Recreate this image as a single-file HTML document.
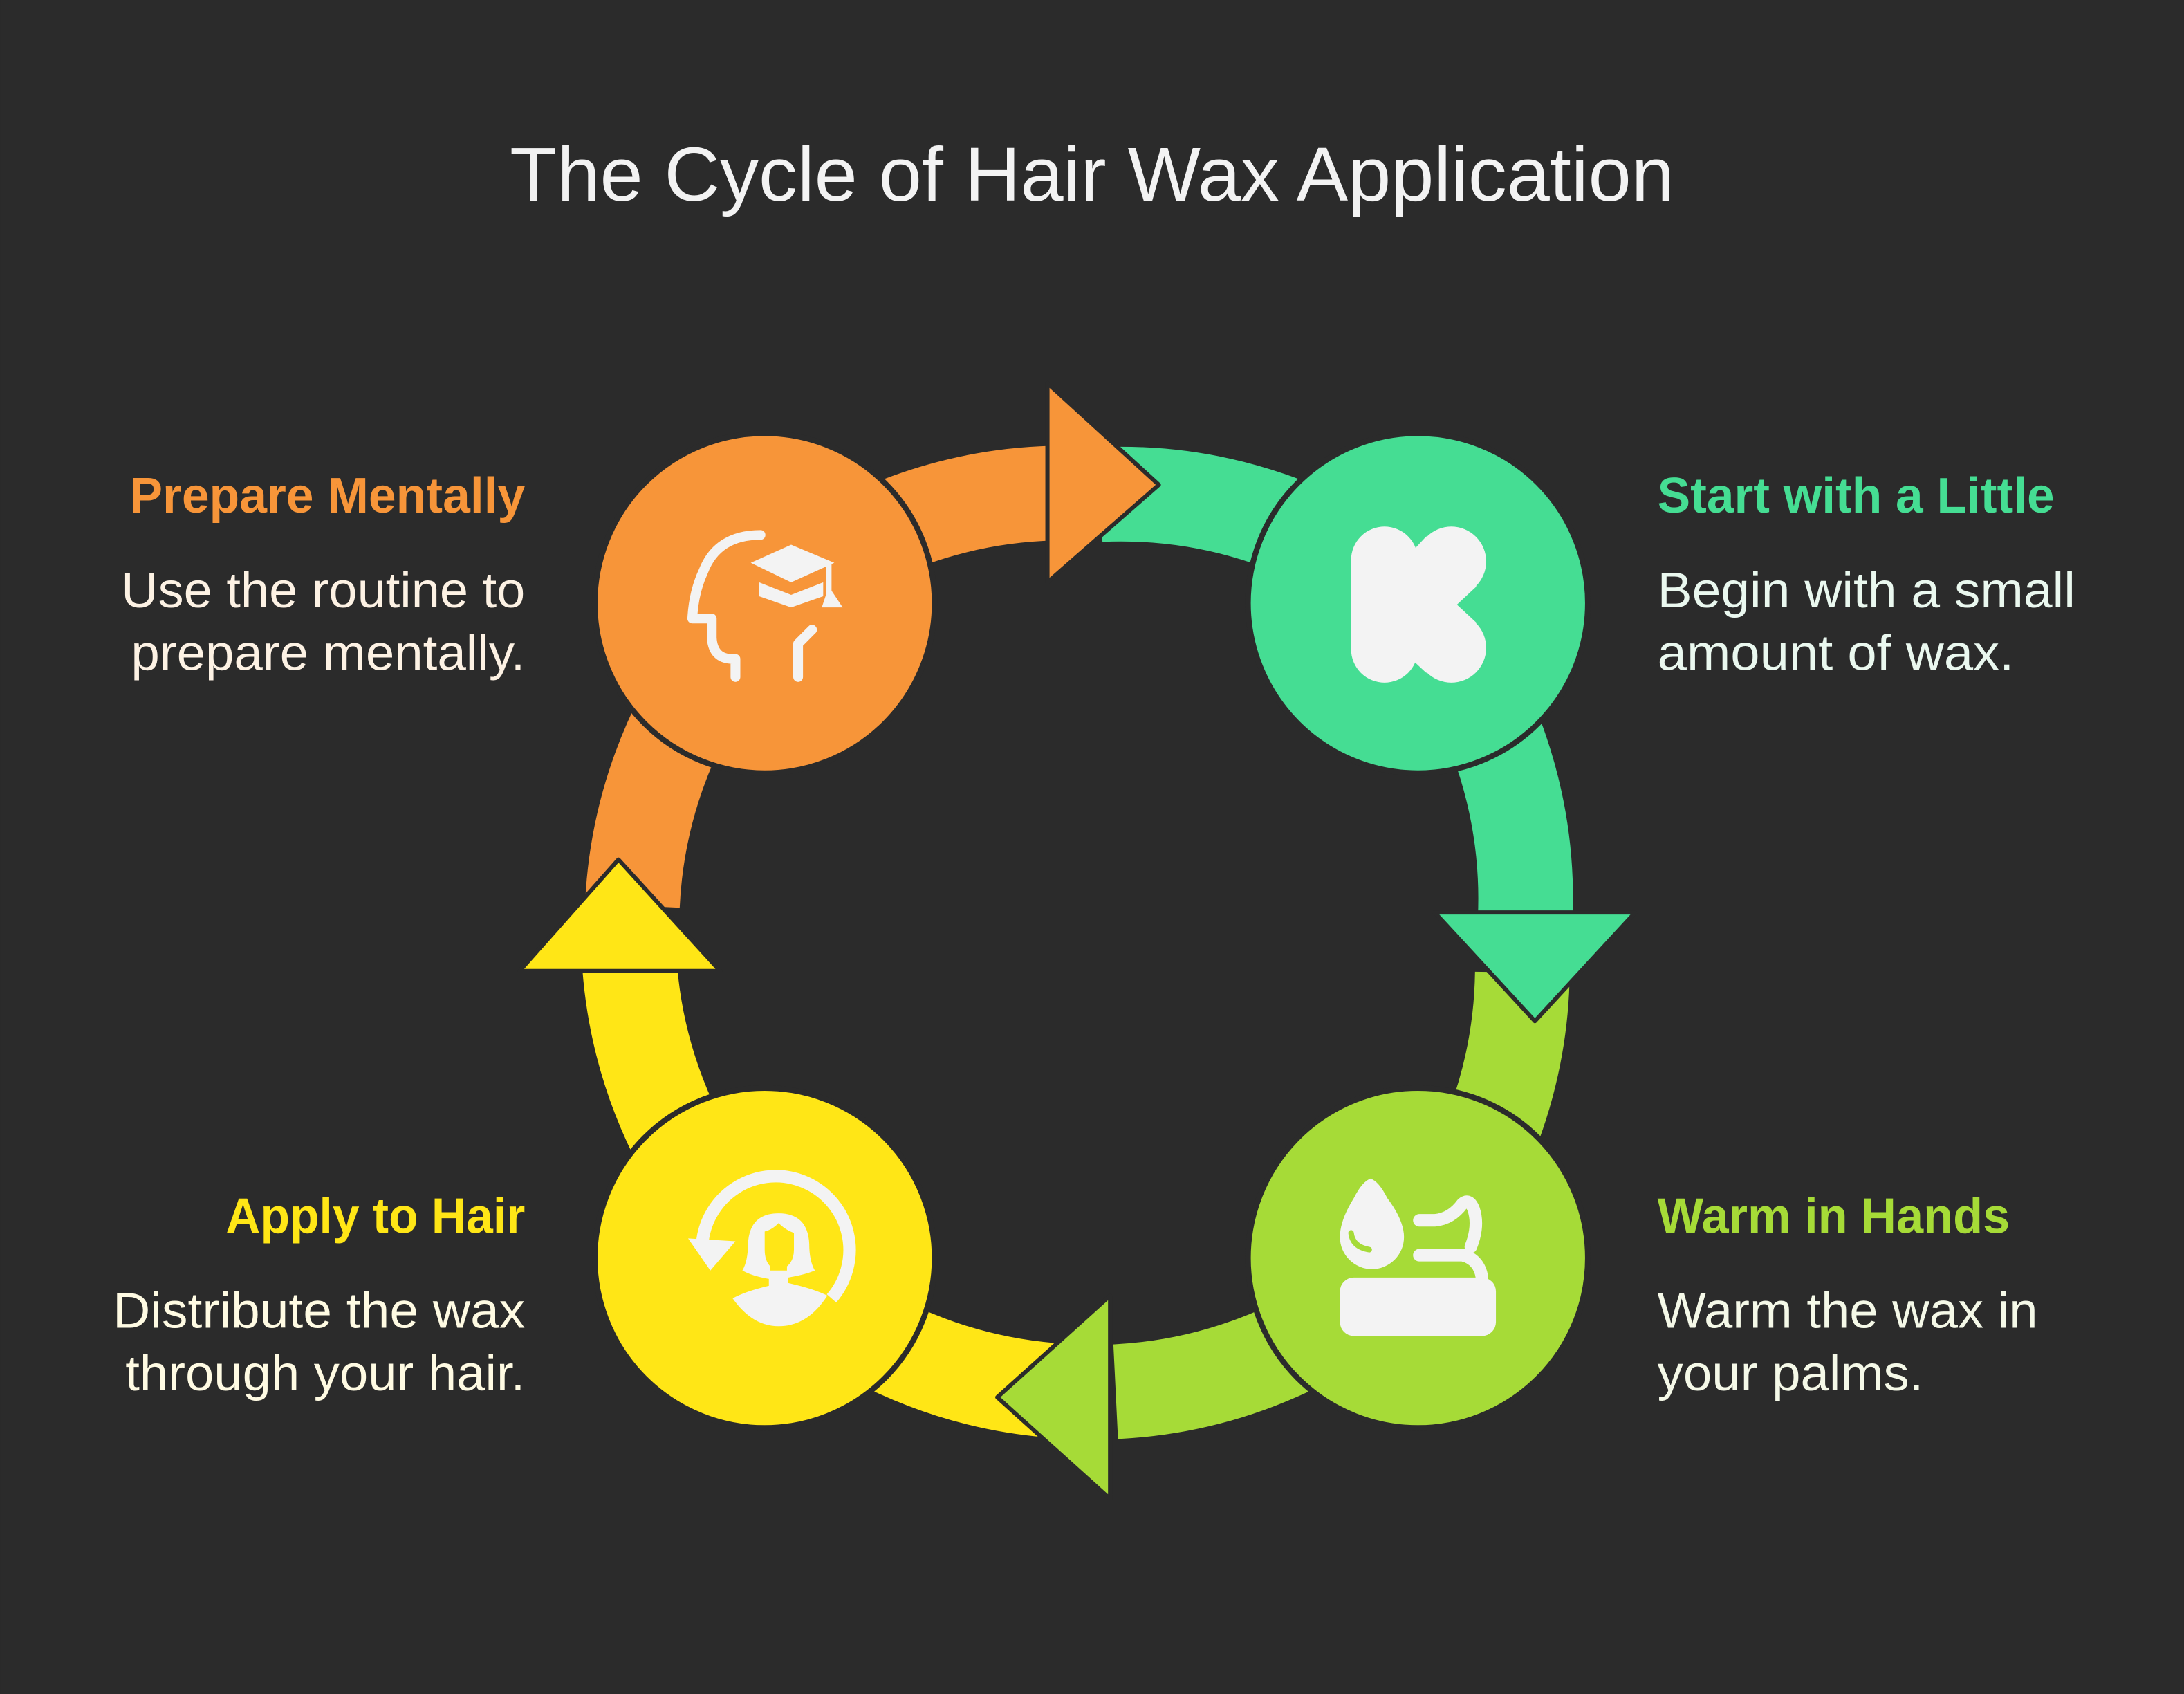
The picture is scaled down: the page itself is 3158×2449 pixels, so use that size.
<!DOCTYPE html>
<html><head><meta charset="utf-8"><style>
html,body{margin:0;padding:0;background:#2b2b2b;}
svg{display:block;}
text{font-family:"Liberation Sans",sans-serif;}
</style></head><body>
<svg width="3158" height="2449" viewBox="0 0 1568 1216" xmlns="http://www.w3.org/2000/svg">
<rect width="1568" height="1216" fill="#2b2b2b"/>
<text x="784" y="144" font-size="55" fill="#f3f3f3" text-anchor="middle" textLength="836" lengthAdjust="spacingAndGlyphs">The Cycle of Hair Wax Application</text>

<!-- arcs -->
<g fill="none" stroke-width="68" stroke-linecap="butt">
<path d="M560,425 A330 330 0 0 1 756,354" stroke="#f79539"/>
<path d="M790,355 A330 330 0 0 1 1018,433" stroke="#45dd93"/>
<path d="M1018,433 A330 330 0 0 1 1095,660" stroke="#45dd93"/>
<path d="M1093,698 A330 330 0 0 1 1018,903" stroke="#a6db37"/>
<path d="M1018,903 A330 330 0 0 1 801,999" stroke="#a6db37"/>
<path d="M755,998 A330 330 0 0 1 549,903" stroke="#ffe616"/>
<path d="M549,903 A330 330 0 0 1 452,693" stroke="#ffe616"/>
<path d="M454,650 A330 330 0 0 1 549,433" stroke="#f79539"/>
</g>
<!-- arrowheads -->
<g stroke="#2b2b2b" stroke-width="3" stroke-linejoin="round">
<polygon points="752,275 832,348 752,418" fill="#f79539"/>
<polygon points="1030,655 1174,655 1102,733" fill="#45dd93"/>
<polygon points="797,930 716,1003 797,1076" fill="#a6db37"/>
<polygon points="373,697 444,617 517,697" fill="#ffe616"/>
</g>
<!-- circles -->
<g stroke="#2b2b2b" stroke-width="4">
<circle cx="549" cy="433" r="122" fill="#f79539"/>
<circle cx="1018" cy="433" r="122" fill="#45dd93"/>
<circle cx="1018" cy="903" r="122" fill="#a6db37"/>
<circle cx="549" cy="903" r="122" fill="#ffe616"/>
</g>

<!-- orange icon -->
<g fill="none" stroke="#f3f3f3" stroke-width="7" stroke-linecap="round" stroke-linejoin="round">
<path d="M546,384 Q515,384 505,410 Q498,425 497,444 L511,444 L511,458 Q512,473 526,473 L528,473 L528,486"/>
<path d="M573,486 L573,462 L583,452"/>
</g>
<g fill="#f3f3f3">
<polygon points="568,391 599,404 568,418 539,404"/>
<path d="M545,418 L568,427 L591,418 L591,428 L568,436 L545,428 Z"/>
<rect x="593" y="404" width="4" height="22"/>
<polygon points="595,421 605,436 590,436"/>
</g>

<!-- green K -->
<g fill="#f3f3f3">
<rect x="970" y="378" width="48" height="112" rx="24"/>
<circle cx="1042" cy="403" r="25"/>
<circle cx="1042" cy="465" r="25"/>
<polygon points="1010,400 1024,385 1060,421 1046,434 1060,447 1024,483 1010,470"/>
</g>

<!-- lime icon -->
<g fill="#f3f3f3">
<path d="M984,846 Q978,848 972,860 Q962,876 962,888 A23 23 0 0 0 1008,888 Q1008,876 996,860 Q990,848 984,846 Z"/>
<rect x="962" y="917" width="112" height="42" rx="10"/>
</g>
<path d="M970,885 Q971,895 983,897" fill="none" stroke="#a6db37" stroke-width="4" stroke-linecap="round"/>
<g fill="none" stroke="#f3f3f3" stroke-width="9" stroke-linecap="round" stroke-linejoin="round">
<path d="M1019,876 L1030,876 Q1042,875 1050,864 Q1055,860 1058,868 Q1062,880 1056,895"/>
<path d="M1019,901 L1050,901 Q1062,904 1064,917"/>
</g>

<!-- yellow icon -->
<g fill="#f3f3f3">
<path d="M504,895 A53 53 0 1 1 597,932" fill="none" stroke="#f3f3f3" stroke-width="9"/>
<polygon points="494,889 528,891 510,912"/>
<path d="M559,871 Q538,871 537,893 Q537,905 533,912 Q540,916 552,918 L552,923 Q535,927 526,932 Q540,952 559,952 Q580,952 594,930 Q584,925 566,921 L566,917 Q578,915 585,912 Q581,905 581,893 Q580,871 559,871 Z"/>
</g>
<path d="M549,884 Q554,883 559,878 Q564,883 570,885 L570,897 Q570,905 565,909 L565,912 L553,912 L553,909 Q549,905 549,897 Z" fill="#ffe616"/>

<!-- labels -->
<g font-size="36">
<text x="377" y="368" font-weight="bold" fill="#f79539" text-anchor="end" textLength="284" lengthAdjust="spacingAndGlyphs">Prepare Mentally</text>
<text x="377" y="436" fill="#fdf2e4" text-anchor="end" textLength="290" lengthAdjust="spacingAndGlyphs">Use the routine to</text>
<text x="377" y="481" fill="#fdf2e4" text-anchor="end" textLength="283" lengthAdjust="spacingAndGlyphs">prepare mentally.</text>

<text x="1190" y="368" font-weight="bold" fill="#45dd93" textLength="285" lengthAdjust="spacingAndGlyphs">Start with a Little</text>
<text x="1190" y="436" fill="#eaf8ef" textLength="300" lengthAdjust="spacingAndGlyphs">Begin with a small</text>
<text x="1190" y="481" fill="#eaf8ef" textLength="256" lengthAdjust="spacingAndGlyphs">amount of wax.</text>

<text x="1190" y="885" font-weight="bold" fill="#a6db37" textLength="253" lengthAdjust="spacingAndGlyphs">Warm in Hands</text>
<text x="1190" y="953" fill="#f5f9e8" textLength="273" lengthAdjust="spacingAndGlyphs">Warm the wax in</text>
<text x="1190" y="998" fill="#f5f9e8" textLength="191" lengthAdjust="spacingAndGlyphs">your palms.</text>

<text x="377" y="885" font-weight="bold" fill="#ffe616" text-anchor="end" textLength="215" lengthAdjust="spacingAndGlyphs">Apply to Hair</text>
<text x="377" y="953" fill="#fffbe3" text-anchor="end" textLength="296" lengthAdjust="spacingAndGlyphs">Distribute the wax</text>
<text x="377" y="998" fill="#fffbe3" text-anchor="end" textLength="287" lengthAdjust="spacingAndGlyphs">through your hair.</text>
</g>
</svg>
</body></html>
